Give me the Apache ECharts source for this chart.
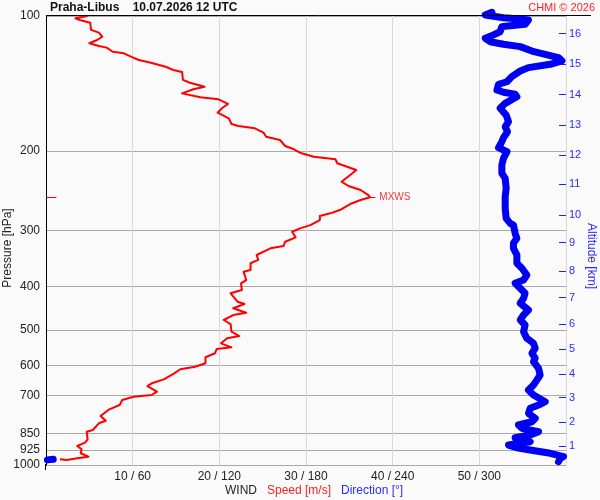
<!DOCTYPE html>
<html><head><meta charset="utf-8">
<script src="https://cdn.jsdelivr.net/npm/echarts@6/dist/echarts.min.js"></script>
<style>html,body{margin:0;padding:0;background:#fafafa}#c{width:600px;height:500px}</style>
</head><body><div id="c"></div>
<script>
// ---- axis ticks ----
const pressureTicks = [100,200,300,400,500,600,700,850,925,1000];
const speedTicks = [10,20,30,40,50];
const directionTicks = [60,120,180,240,300];
const altitudeKm = [1,2,3,4,5,6,7,8,9,10,11,12,13,14,15,16];
const altitudeHpa = [908.5,802.1,708.2,627.2,551.5,486.0,424.1,370.4,319.8,277.5,236.6,204.0,175.2,149.7,127.9,109.5];

// ---- wind speed profile [m/s] vs pressure [hPa] ----
const speedValues = [4.8,3.4,3.9,5.1,5.2,6.1,6.5,5.9,5.0,6.1,
 7.0,7.7,9.0,9.8,10.7,12.1,13.8,14.7,15.7,15.8,
 16.6,18.3,17.0,15.7,17.8,19.9,21.0,20.3,19.8,21.1,
 21.4,22.2,24.1,25.1,25.4,27.0,27.6,28.6,29.3,30.9,
 33.4,33.6,34.5,35.8,35.1,34.1,34.9,36.3,37.2,37.4,
 36.3,35.1,33.9,32.8,31.6,31.6,30.5,29.3,28.4,28.8,
 27.6,27.4,25.9,25.7,24.3,24.5,23.6,23.6,22.8,23.1,
 22.5,22.6,21.3,22.1,22.9,21.6,23.1,21.6,20.5,21.3,
 21.4,22.3,20.9,20.2,21.4,19.7,19.5,18.4,18.4,17.2,
 15.5,14.8,13.6,12.2,11.7,12.8,12.2,10.1,8.8,8.5,
 7.3,6.3,6.9,6.1,5.4,4.7,4.8,4.5,3.6,4.1,
 4.0,4.9,3.6,2.4,1.6];
const speedPressure = [100,101.2,102.1,103.5,107.4,108.9,111.2,113.1,115.0,116.6,
 117.6,120.1,121.1,123.2,125.3,127.1,129.7,131.9,133.2,138.8,
 140.8,143.7,145.6,148.7,151.7,153.3,157.0,160.5,164.2,169.0,
 174.0,175.8,177.9,181.9,185.7,188.9,194.8,198.1,201.6,205.8,
 208.5,212.8,215.8,220.3,226.0,233.9,239.1,244.1,250.5,253.4,
 256.9,262.3,270.5,275.1,278.9,284.7,292.2,297.1,302.3,311.1,
 318.2,325.3,329.1,332.0,340.6,349.4,355.4,367.9,371.1,387.3,
 393.9,407.6,414.6,432.9,438.0,447.7,457.9,463.4,475.4,485.3,
 504.8,516.1,522.2,535.8,547.0,551.5,563.9,575.5,593.5,604.0,
 612.1,625.0,644.5,657.7,667.0,686.7,698.5,704.6,716.6,735.3,
 751.6,777.9,796.8,807.5,835.7,843.0,876.6,891.9,907.0,922.6,
 941.7,958.3,966.2,974.8,971.2];

// ---- wind direction profile [deg] vs pressure [hPa] ----
const directionValues = [308.7,304.1,316.7,328.3,334.0,331.7,321.4,315.6,314.4,309.8,
 304.1,307.5,316.7,328.3,336.4,345.6,354.8,357.2,349.1,334.0,
 328.3,322.5,319.1,313.3,312.2,316.7,324.8,326.0,317.9,314.4,
 318.6,320.2,317.9,319.5,316.7,315.6,313.3,319.1,316.7,315.6,
 315.6,317.9,318.6,317.9,317.9,318.6,321.4,323.6,324.8,326.0,
 323.6,323.6,326.0,326.0,329.5,332.9,330.6,324.8,328.3,331.7,
 330.6,328.3,334.0,330.6,328.3,331.7,330.6,332.9,337.5,338.7,
 336.4,338.7,337.5,341.0,342.1,339.8,337.5,334.0,337.5,345.6,
 341.0,335.2,334.0,338.7,336.4,327.1,329.5,341.0,335.2,324.8,
 332.9,335.2,324.8,320.2,326.0,335.2,349.1,358.3,356.0,354.8];
const directionPressure = [98.1,99.5,100.9,101.6,102.1,104.3,105.1,105.6,108.4,110.2,
 112.1,114.1,115.6,117.0,119.7,121.7,123.8,125.9,128.1,130.3,
 132.6,136.5,140.1,141.9,146.2,147.9,149.4,151.3,156.5,160.5,
 166.2,172.0,176.4,181.0,186.7,190.5,196.5,200.6,207.5,214.7,
 224.0,229.9,241.9,252.6,268.1,282.3,289.6,292.2,304.8,312.7,
 320.8,329.1,340.6,355.4,364.7,377.5,387.3,393.9,404.1,414.6,
 425.4,436.4,451.7,463.4,475.4,487.8,504.8,522.2,535.8,549.6,
 563.9,578.5,588.7,608.9,630.5,646.9,663.5,680.8,698.5,722.8,
 735.3,747.8,767.4,787.1,801.0,814.6,828.6,843.0,857.6,869.6,
 879.9,887.6,898.1,902.8,915.1,926.0,941.7,958.3,966.2,983.3];
const surfaceDirectionValues = [1, 5];
const surfaceDirectionPressure = [974, 971];

// ---- maximum wind ----
const mxwsSpeed = 37.4;
const mxwsPressure = 253.4;

const zip = (a, b) => a.map((v, i) => [v, b[i]]);

const chart = echarts.init(document.getElementById('c'), null, {renderer: 'canvas'});
const font = 'Arial, "Liberation Sans", sans-serif';
const nearestKm = v => {
  let best = 0, bd = Infinity;
  altitudeHpa.forEach((p, i) => { const d = Math.abs(Math.log(p) - Math.log(v)); if (d < bd) { bd = d; best = i; } });
  return String(altitudeKm[best]);
};

chart.setOption({
  backgroundColor: '#fafafa',
  animation: false,
  textStyle: {fontFamily: font},
  grid: {left: 46, right: 34, top: 16, bottom: 35, containLabel: false},
  xAxis: [{
    type: 'value', min: 0, max: 60, interval: 10,
    axisLine: {show: false, onZero: false}, axisTick: {show: false},
    splitLine: {show: true, lineStyle: {color: '#d9d9d9', width: 1}},
    axisLabel: {
      color: '#222', fontSize: 12, margin: 6, fontFamily: font,
      formatter: v => { const i = speedTicks.indexOf(v); return i < 0 ? '' : speedTicks[i] + ' / ' + directionTicks[i]; }
    }
  }, {
    type: 'value', min: 0, max: 360, show: false
  }],
  yAxis: [{
    type: 'log', logBase: 10, min: 100, max: 1000, inverse: true,
    axisLine: {show: true, onZero: false, lineStyle: {color: '#000', width: 1}},
    axisTick: {show: false, customValues: pressureTicks},
    axisLabel: {customValues: pressureTicks, color: '#222', fontSize: 12, margin: 6, fontFamily: font,
      formatter: v => String(Math.round(v))},
    splitLine: {show: true, lineStyle: {color: '#a9a9a9', width: 1}},
    minorSplitLine: {show: false}
  }, {
    type: 'log', logBase: 10, min: 100, max: 1000, inverse: true, position: 'right',
    axisLine: {show: false, onZero: false},
    axisTick: {show: true, inside: true, length: 7, customValues: altitudeHpa, lineStyle: {color: '#1f1fff', width: 1}},
    axisLabel: {customValues: altitudeHpa, color: '#2a2aff', fontSize: 11, margin: 3, fontFamily: font,
      formatter: v => nearestKm(v)},
    splitLine: {show: false}
  }],
  graphic: [
    {type: 'line', shape: {x1: 46, y1: 15.5, x2: 591, y2: 15.5}, style: {stroke: '#000', lineWidth: 1}, z: 10},
    {type: 'line', shape: {x1: 45.5, y1: 464, x2: 45.5, y2: 470}, style: {stroke: '#000', lineWidth: 1}, z: 10},
    {type: 'text', x: 50, y: 2, style: {text: 'Praha-Libus    10.07.2026 12 UTC', fill: '#111', font: 'bold 12px ' + font}},
    {type: 'text', x: 595, y: 2, style: {text: 'CHMI \u00a9 2026', fill: '#ff2020', font: '11px ' + font, align: 'right'}},
    {type: 'text', x: 8, y: 248, rotation: Math.PI / 2, style: {text: 'Pressure [hPa]', fill: '#222', font: '12px ' + font, align: 'center', verticalAlign: 'middle'}},
    {type: 'text', x: 591, y: 256, rotation: -Math.PI / 2, style: {text: 'Altitude [km]', fill: '#2a2aff', font: '12px ' + font, align: 'center', verticalAlign: 'middle'}},
    {type: 'text', x: 225, y: 485, style: {
      text: '{a|WIND}   {b|Speed [m/s]}   {c|Direction [\u00b0]}',
      rich: {a: {fill: '#222', font: '12px ' + font}, b: {fill: '#ff2020', font: '12px ' + font}, c: {fill: '#2a2aff', font: '12px ' + font}},
      font: '12px ' + font
    }}
  ],
  series: [{
    name: 'Direction', type: 'line', xAxisIndex: 1, yAxisIndex: 0,
    data: zip(directionValues, directionPressure), showSymbol: false, clip: false,
    lineStyle: {color: '#0000f5', width: 7, cap: 'round', join: 'round'}, z: 3
  }, {
    name: 'DirectionSurface', type: 'line', xAxisIndex: 1, yAxisIndex: 0,
    data: zip(surfaceDirectionValues, surfaceDirectionPressure), showSymbol: false, clip: false,
    lineStyle: {color: '#0000f5', width: 7, cap: 'round', join: 'round'}, z: 3
  }, {
    name: 'Speed', type: 'line', xAxisIndex: 0, yAxisIndex: 0,
    data: zip(speedValues, speedPressure), showSymbol: false, clip: false,
    lineStyle: {color: '#ff0000', width: 2, join: 'round'}, z: 4,
    markLine: {
      silent: true, symbol: 'none', animation: false,
      lineStyle: {color: '#ff0000', width: 1, type: 'solid'},
      label: {show: false},
      data: [
        [{coord: [0, mxwsPressure]}, {coord: [1.2, mxwsPressure]}],
        [{coord: [mxwsSpeed, mxwsPressure]}, {coord: [mxwsSpeed + 0.6, mxwsPressure],
          label: {show: true, position: 'end', formatter: 'MXWS', color: '#f03c3c', fontSize: 10, distance: 4, fontFamily: font}}],
        [{coord: [58.5, mxwsPressure]}, {coord: [60.1, mxwsPressure]}]
      ]
    }
  }]
});
</script>
</body></html>
